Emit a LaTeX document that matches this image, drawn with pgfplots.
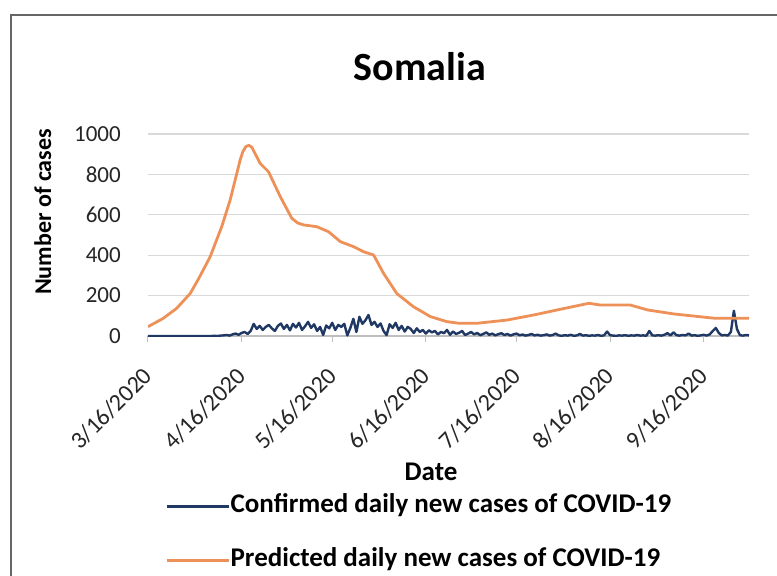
\documentclass[border=0pt]{standalone}
\usepackage{pgfplots}
\pgfplotsset{compat=1.18}
\usepackage{fontspec}
\setmainfont{Carlito}

\definecolor{confblue}{RGB}{31,56,100}
\definecolor{predorange}{RGB}{238,145,88}
\definecolor{gridgray}{RGB}{217,217,217}
\definecolor{axisgray}{RGB}{191,191,191}

\begin{document}
\begin{tikzpicture}[x=1pt,y=1pt]
\useasboundingbox (0,0) rectangle (777,576);
\fill[white] (0,0) rectangle (777,576);
\draw[line width=1.6pt, black!60] (11,-10) -- (11,561) -- (790,561);
\begin{axis}[
    at={(148pt,240pt)}, anchor=south west,
    scale only axis,
    width=601pt, height=202pt,
    xmin=0, xmax=199,
    ymin=0, ymax=1000,
    axis x line*=bottom,
    axis y line*=left,
    x axis line style={axisgray, line width=1.2pt},
    y axis line style={draw=none},
    xtick={0,31,61,92,122,153,184},
    xticklabels={3/16/2020,4/16/2020,5/16/2020,6/16/2020,7/16/2020,8/16/2020,9/16/2020},
    ytick={0,200,400,600,800,1000},
    yticklabel style={/pgf/number format/1000 sep={}},
    tick align=outside,
    major tick length=6pt,
    xtick style={axisgray, line width=1pt},
    ytick style={draw=none},
    ymajorgrids,
    grid style={gridgray, line width=1.2pt},
    tick label style={text=black!85},
    xticklabel style={font=\fontsize{24}{29}\selectfont, yshift=-30pt, rotate=45, anchor=east, inner sep=0pt},
    yticklabel style={font=\fontsize{23}{27}\selectfont, anchor=east, inner sep=0pt, xshift=-21pt},
    /pgf/number format/assume math mode=true,
    title={Somalia},
    title style={font=\fontsize{40}{48}\selectfont\bfseries, at={(axis description cs:0.4526,1.2327)}, anchor=base},
    xlabel={Date},
    xlabel style={font=\fontsize{27}{32}\selectfont\bfseries, at={(axis description cs:0.471,-0.713)}, anchor=base},
    ylabel={Number of cases},
    ylabel style={font=\fontsize{24}{29}\selectfont\bfseries, at={(axis description cs:-0.175,0.614)}, anchor=center, rotate=0},
    legend style={draw=none, fill=none, inner sep=0pt, outer sep=0pt,
        at={(axis description cs:0.03,-0.785)}, anchor=north west,
        font=\fontsize{27}{32}\selectfont\bfseries, row sep=30pt,
        nodes={inner sep=0pt, text height=18pt, text depth=6pt},
        /tikz/every even column/.append style={column sep=3pt}},
    legend cell align=left,
    legend image code/.code={\draw[#1, line width=2.6pt] (0pt,0pt) -- (62pt,0pt);},
]
\addplot[confblue, line width=2.4pt, line join=round] coordinates {
(0,0)(1,0)(2,0)(3,0)(4,0)(5,0)(6,0)(7,0)(8,0)(9,0)
(10,0)(11,0)(12,0)(13,0)(14,0)(15,0)(16,0)(17,0)(18,0)(19,0)
(20,0)(21,0)(22,1)(23,0)(24,2)(25,3)(26,5)(27,2)(28,8)(29,12)
(30,6)(31,15)(32,20)(33,10)(34,25)(35,60)(36,35)(37,50)(38,30)(39,45)
(40,55)(41,38)(42,25)(43,50)(44,62)(45,35)(46,55)(47,28)(48,60)(49,42)
(50,65)(51,30)(52,48)(53,70)(54,40)(55,58)(56,25)(57,45)(58,5)(59,52)
(60,38)(61,65)(62,30)(63,55)(64,45)(65,60)(66,3)(67,40)(68,85)(69,20)
(70,95)(71,60)(72,78)(73,104)(74,55)(75,70)(76,45)(77,62)(78,25)(79,4)
(80,58)(81,40)(82,65)(83,30)(84,50)(85,22)(86,45)(87,35)(88,15)(89,38)
(90,20)(91,30)(92,12)(93,28)(94,18)(95,25)(96,8)(97,20)(98,14)(99,30)
(100,6)(101,22)(102,10)(103,16)(104,25)(105,5)(106,12)(107,20)(108,8)(109,15)
(110,4)(111,10)(112,18)(113,6)(114,12)(115,3)(116,9)(117,14)(118,5)(119,10)
(120,2)(121,8)(122,12)(123,4)(124,7)(125,2)(126,5)(127,10)(128,3)(129,6)
(130,2)(131,4)(132,8)(133,2)(134,5)(135,12)(136,3)(137,1)(138,4)(139,2)
(140,6)(141,1)(142,3)(143,10)(144,2)(145,4)(146,1)(147,3)(148,2)(149,5)
(150,1)(151,3)(152,22)(153,4)(154,2)(155,1)(156,3)(157,2)(158,4)(159,1)
(160,3)(161,2)(162,5)(163,2)(164,3)(165,1)(166,25)(167,3)(168,2)(169,4)
(170,2)(171,6)(172,14)(173,3)(174,18)(175,4)(176,2)(177,5)(178,3)(179,12)
(180,2)(181,4)(182,1)(183,3)(184,6)(185,2)(186,8)(187,25)(188,40)(189,15)
(190,3)(191,5)(192,2)(193,20)(194,125)(195,35)(196,4)(197,2)(198,5)(199,3)
};
\addlegendentry{Confirmed daily new cases of COVID-19}
\addplot[predorange, line width=2.8pt, line join=round] coordinates {
(0,46)(5,87)(9.5,137)(14,211)(17,290)(20.6,393)(24.4,541)(27.2,673)
(30.5,871)(31.4,912)(32.4,938)(33.4,944)(34.4,934)(37.1,855)(39.9,813)
(43.8,690)(47.6,583)(49.5,560)
(51.5,550)(55.9,541)(59.8,516)(63.7,467)(68.1,442)(71.4,417)(74.7,401)
(78,310)(82.4,210)(87.9,145)(93.5,96)(99,71)(103,63)(109,63)(118.9,79)
(127.7,104)(135.5,129)(146,162)(149.9,153)(159.8,153)(165.4,129)
(174.2,109)(187.5,88)(199,88)
};
\addlegendentry{Predicted daily new cases of COVID-19}
\end{axis}
\end{tikzpicture}
\end{document}
